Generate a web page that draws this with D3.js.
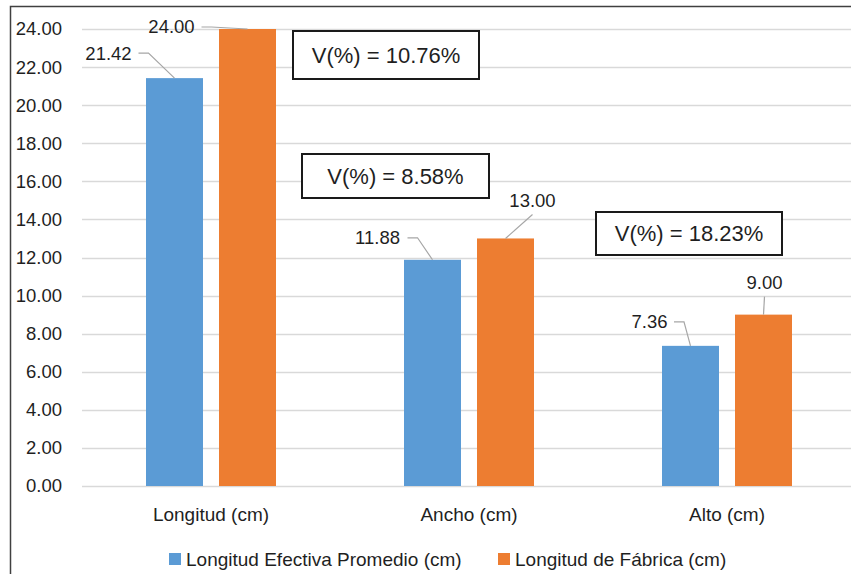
<!DOCTYPE html>
<html>
<head>
<meta charset="utf-8">
<script src="https://cdn.jsdelivr.net/npm/d3@7/dist/d3.min.js"></script>
<style>
  html, body { margin: 0; padding: 0; background: #ffffff; }
  svg { display: block; font-family: "Liberation Sans", Arial, sans-serif; }
</style>
</head>
<body>
<svg id="chart" width="851" height="574"></svg>
<script>
// ---- data ----
const categories = ["Longitud (cm)", "Ancho (cm)", "Alto (cm)"];
const seriesNames = ["Longitud Efectiva Promedio (cm)", "Longitud de Fábrica (cm)"];
const efectiva = [21.42, 11.88, 7.36];
const fabrica = [24.00, 13.00, 9.00];
const variation = ["V(%) = 10.76%", "V(%) = 8.58%", "V(%) = 18.23%"];
const yTicks = [0, 2, 4, 6, 8, 10, 12, 14, 16, 18, 20, 22, 24];

// ---- layout / style ----
const colors = ["#5B9BD5", "#ED7D31"];
const textColor = "#1f1f1f";
const W = 851, H = 574;
const plotLeft = 82, plotRight = 856, plotTop = 29, plotBottom = 486;
const barW = 57, barGap = 16;

// label offsets [dx from bar centre to label centre, dy from bar top to label centre]
const labelOffsets = [
  [[-66, -25], [-76, -2]],
  [[-55, -22], [27, -38]],
  [[-41, -24], [1, -32]]
];
// V(%) boxes: [x, y, w, h] in pixel layout
const boxes = [[293, 31, 186, 48], [302, 154, 187, 44], [596, 212, 186, 43]];

const svg = d3.select("#chart");

const x = d3.scaleBand().domain(categories).range([plotLeft, plotRight]).padding(0);
const y = d3.scaleLinear().domain([0, 24]).range([plotBottom, plotTop]);

// outer frame (partially visible)
svg.append("path")
  .attr("d", `M10.5,${H} L10.5,6.5 L${W},6.5`)
  .attr("fill", "none").attr("stroke", "#404040").attr("stroke-width", 1.5);

// gridlines
svg.append("g").selectAll("line").data(yTicks).join("line")
  .attr("x1", plotLeft).attr("x2", W)
  .attr("y1", d => Math.round(y(d)) + 0.5).attr("y2", d => Math.round(y(d)) + 0.5)
  .attr("stroke", "#d9d9d9").attr("stroke-width", 1.5);

// y axis labels via d3 axis
const yAxis = d3.axisLeft(y).tickValues(yTicks).tickFormat(d3.format(".2f")).tickSize(0).tickPadding(0);
const gy = svg.append("g").attr("transform", "translate(62,0)").call(yAxis);
gy.select(".domain").remove();
gy.selectAll("text").attr("font-size", 18.5).attr("fill", textColor)
  .attr("font-family", "'Liberation Sans', Arial, sans-serif");

// x axis labels
const xAxis = d3.axisBottom(x).tickSize(0).tickPadding(0);
const gx = svg.append("g").attr("transform", `translate(0,${plotBottom + 21})`).call(xAxis);
gx.select(".domain").remove();
gx.selectAll("text").attr("font-size", 19).attr("fill", textColor)
  .attr("font-family", "'Liberation Sans', Arial, sans-serif");

// bars
const series = [efectiva, fabrica];
const barData = [];
categories.forEach((c, i) => {
  series.forEach((s, j) => {
    const cx = x(c) + x.bandwidth() / 2;
    const bx = j === 0 ? cx - barGap / 2 - barW : cx + barGap / 2;
    barData.push({ cat: c, i, j, v: s[i], bx, bc: bx + barW / 2 });
  });
});

svg.append("g").selectAll("rect").data(barData).join("rect")
  .attr("x", d => d.bx).attr("width", barW)
  .attr("y", d => y(d.v)).attr("height", d => y(0) - y(d.v))
  .attr("fill", d => colors[d.j]);

// leader lines + labels
const lg = svg.append("g");
barData.forEach(d => {
  const [dx, dy] = labelOffsets[d.i][d.j];
  const top = y(d.v);
  const lx = d.bc + dx, ly = top + dy;
  let path;
  if (dx < -30) {
    const hw = (d.v >= 10 ? 23 : 17.5);
    const sx = lx + hw + 7;
    const kx = sx + 10;
    path = `M${sx},${ly} L${kx},${ly} L${d.bc},${top}`;
  } else {
    path = `M${lx},${ly + 14} L${d.bc},${top}`;
  }
  lg.append("path").attr("d", path).attr("fill", "none")
    .attr("stroke", "#a6a6a6").attr("stroke-width", 1.2);
  lg.append("text").attr("x", lx).attr("y", ly).attr("dy", "0.35em")
    .attr("text-anchor", "middle").attr("font-size", 18.5).attr("fill", textColor)
    .text(d3.format(".2f")(d.v));
});

// V(%) boxes
const bg = svg.append("g");
boxes.forEach((b, i) => {
  bg.append("rect").attr("x", b[0]).attr("y", b[1]).attr("width", b[2]).attr("height", b[3])
    .attr("fill", "#ffffff").attr("stroke", "#1a1a1a").attr("stroke-width", 2);
  bg.append("text").attr("x", b[0] + b[2] / 2).attr("y", b[1] + b[3] / 2).attr("dy", "0.36em")
    .attr("text-anchor", "middle").attr("font-size", 22).attr("fill", "#1f1f1f")
    .text(variation[i]);
});

// legend
const legendX = [169, 498];
const leg = svg.append("g");
seriesNames.forEach((n, j) => {
  leg.append("rect").attr("x", legendX[j]).attr("y", 553).attr("width", 12).attr("height", 12)
    .attr("fill", colors[j]);
  leg.append("text").attr("x", legendX[j] + 17).attr("y", 559).attr("dy", "0.35em")
    .attr("font-size", 19).attr("fill", textColor).text(n);
});
</script>
</body>
</html>
